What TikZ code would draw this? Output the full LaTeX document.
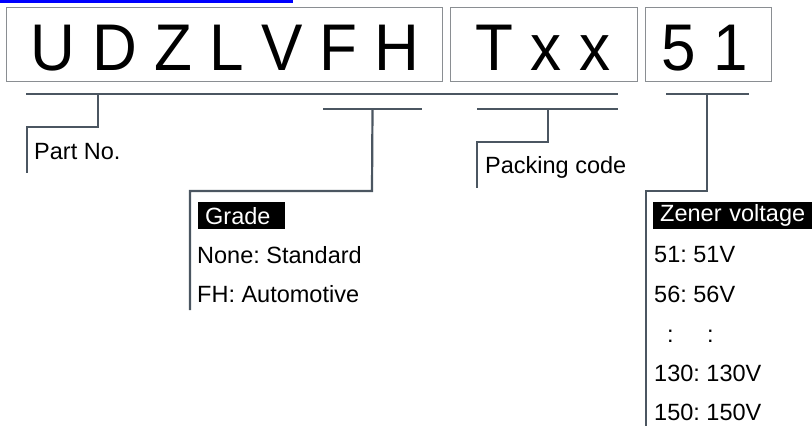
\documentclass[tikz,border=0pt]{standalone}
\usepackage{fontspec}
\setmainfont{Liberation Sans}
\usepackage{xcolor}
\usepackage{graphicx}
\usetikzlibrary{positioning,calc}
\definecolor{leadgray}{HTML}{4B5661}
\definecolor{boxgray}{HTML}{8A8E92}
\frenchspacing

\begin{document}
\begin{tikzpicture}[x=1pt, y={(0pt,-1pt)},
    codebox/.style={draw=boxgray, line width=1pt, anchor=north west, minimum height=74pt, inner sep=0pt},
    codetext/.style={anchor=base, inner sep=0pt, font=\fontsize{66}{66}\selectfont},
    lead/.style={draw=leadgray, line width=2.2pt},
    lbl/.style={anchor=base west, inner sep=0pt, font=\fontsize{23.5}{23.5}\selectfont},
    hdr/.style={anchor=north west, fill=black, text=white, inner xsep=7pt, inner ysep=0pt, minimum height=27pt, font=\fontsize{23.5}{23.5}\selectfont}]
    \useasboundingbox (0,0) rectangle (812,426);
    \fill[blue] (0,0) rectangle (293,2.5);
    % code boxes
    \node[codebox, minimum width=436pt] (part) at (6,7) {};
    \node[codebox, minimum width=187pt] (pack) at (450,7) {};
    \node[codebox, minimum width=126pt] (volt) at (645,7) {};
    \node[codetext] (parttxt) at (225,70) {\scalebox{0.94}[1]{U D Z L V F H}};
    \node[codetext] (packtxt) at (543,70) {\scalebox{0.94}[1]{T x x}};
    \node[codetext] (volttxt) at (705,70) {\scalebox{0.94}[1]{5 1}};
    % labels
    \node[lbl] (partlbl) at (34,159) {Part No.};
    \node[lbl] (packlbl) at (485,173) {Packing code};
    \node[hdr, text width=73pt] (grade) at (198,202) {Grade};
    \node[lbl] (grade1) at (197,263) {None: Standard};
    \node[lbl] (grade2) at (197,302.5) {FH: Automotive};
    \node[hdr, text width=145pt] (zener) at (653,202) {Zener voltage};
    \node[lbl] (z1) at (654,262.5) {51: 51V};
    \node[lbl] (z2) at (654,302) {56: 56V};
    \node[lbl] (z3) at (654,342) {\hspace*{12.8pt}:\hspace*{33.6pt}:};
    \node[lbl] (z4) at (654,381.5) {130: 130V};
    \node[lbl] (z5) at (654,420) {150: 150V};
    % leader lines
    \coordinate (top l) at (26,94);
    \coordinate (top r) at (618,94);
    \coordinate (pn end) at (27,173);
    \coordinate (gr l) at (323,109);
    \coordinate (gr r) at (422,109);
    \coordinate (gr end) at (190,310);
    \coordinate (pk l) at (477,109);
    \coordinate (pk r) at (618,109);
    \coordinate (pk end) at (477,188);
    \coordinate (zv l) at (666,94);
    \coordinate (zv r) at (749,94);
    \coordinate (zv end) at (646,426);
    \draw[lead] (top l) -- (top r);
    \draw[lead] (98,94) -- (98,127) -| (pn end);
    \draw[lead] (gr l) -- (gr r);
    \draw[lead] ($(gr l)!0.5!(gr r)$) -- (372,191) -| (gr end);
    \draw[lead] (pk l) -- (pk r);
    \draw[lead] (548,109) -- (548,142) -| (pk end);
    \draw[lead] (zv l) -- (zv r);
    \draw[lead] (707,94) -- (707,191) -| (zv end);
\end{tikzpicture}
\end{document}
